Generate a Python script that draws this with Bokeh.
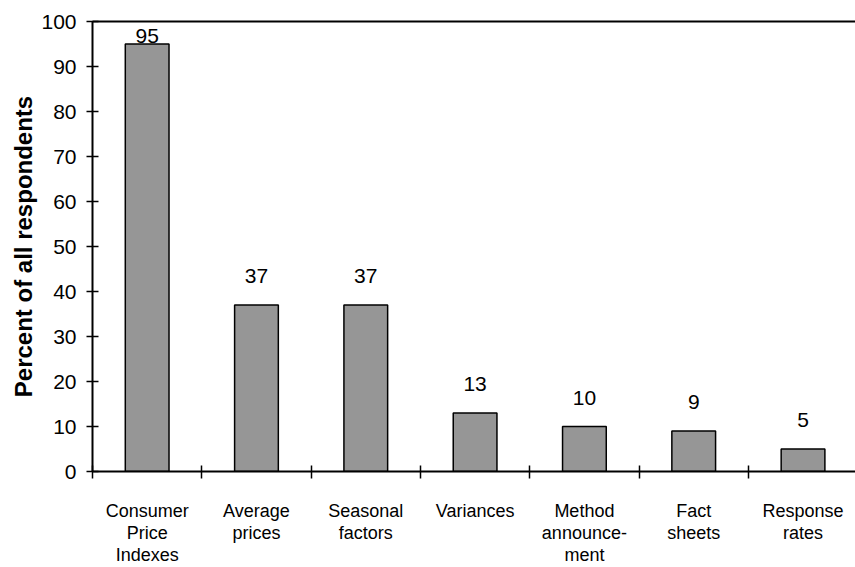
from bokeh.plotting import figure
from bokeh.models import Range1d, FixedTicker, LinearAxis, ColumnDataSource
from bokeh.core.properties import value
from bokeh.embed import file_html
from bokeh.resources import INLINE

categories = ["Consumer\nPrice\nIndexes", "Average\nprices", "Seasonal\nfactors",
              "Variances", "Method\nannounce-\nment", "Fact\nsheets", "Response\nrates"]
values = [95, 37, 37, 13, 10, 9, 5]
y_ticks = [0, 10, 20, 30, 40, 50, 60, 70, 80, 90, 100]

FONT = "Liberation Sans"
n = len(categories)
centers = [i + 0.5 for i in range(n)]
boundaries = list(range(n + 1))
label_offsets = [-8 if v > 90 else -29 for v in values]

src = ColumnDataSource(dict(x=centers, top=values, text=[str(v) for v in values],
                            yo=label_offsets))

p = figure(width=855, height=567, output_backend="svg", toolbar_location=None,
           x_range=Range1d(0, 6.98), y_range=Range1d(0, 100),
           min_border_left=92, min_border_top=21, min_border_right=0, min_border_bottom=94,
           x_axis_location=None, y_axis_location=None)
p.outline_line_color = None
p.grid.visible = False
p.background_fill_color = "white"

p.vbar(x="x", top="top", width=0.4, bottom=0, source=src,
       fill_color="#969696", line_color="black", line_width=1.5)
p.text(x="x", y="top", text="text", y_offset="yo", source=src,
       text_align="center", text_baseline="alphabetic",
       text_font=value(FONT), text_font_size="21px", text_color="black")

# y axis
ya = LinearAxis(ticker=FixedTicker(ticks=y_ticks))
ya.axis_line_width = 2
ya.axis_line_color = "black"
ya.major_tick_in = 6
ya.major_tick_out = 6
ya.major_tick_line_width = 1.5
ya.major_tick_line_color = "black"
ya.minor_tick_line_color = None
ya.major_label_text_font = FONT
ya.major_label_text_font_size = "21px"
ya.major_label_text_color = "black"
ya.major_label_standoff = 10
ya.axis_label = "Percent of all respondents"
ya.axis_label_text_font = FONT
ya.axis_label_text_font_style = "bold"
ya.axis_label_text_font_size = "24px"
ya.axis_label_text_color = "black"
ya.axis_label_standoff = 1
p.add_layout(ya, "left")

# x axis
xa = LinearAxis(ticker=FixedTicker(ticks=centers, minor_ticks=boundaries))
xa.axis_line_width = 2
xa.axis_line_color = "black"
xa.major_tick_line_color = None
xa.major_tick_in = 0
xa.major_tick_out = 0
xa.minor_tick_in = 6
xa.minor_tick_out = 7
xa.minor_tick_line_width = 1.5
xa.minor_tick_line_color = "black"
xa.major_label_overrides = {c: lab for c, lab in zip(centers, categories)}
xa.major_label_text_font = FONT
xa.major_label_text_font_size = "18px"
xa.major_label_text_color = "black"
xa.major_label_text_line_height = 1.1
xa.major_label_standoff = 22
p.add_layout(xa, "below")

# top border line
ta = LinearAxis(ticker=FixedTicker(ticks=[]))
ta.axis_line_width = 2
ta.axis_line_color = "black"
ta.major_tick_line_color = None
ta.minor_tick_line_color = None
ta.major_label_text_font_size = "0px"
p.add_layout(ta, "above")

open("out.html", "w").write(file_html(p, INLINE))
